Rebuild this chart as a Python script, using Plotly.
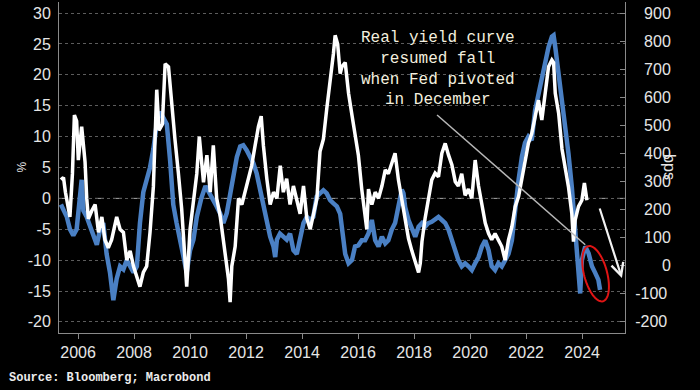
import numpy as np
import plotly.graph_objects as go

# ---- data ----
white_years = [2005.39, 2005.48, 2005.55, 2005.62, 2005.71, 2005.80, 2005.87, 2005.95, 2006.01, 2006.13,
               2006.25, 2006.31, 2006.37, 2006.49, 2006.61, 2006.73, 2006.85, 2006.96, 2007.08, 2007.20,
               2007.38, 2007.50, 2007.62, 2007.74, 2007.86, 2007.98, 2008.10, 2008.21, 2008.33, 2008.45,
               2008.57, 2008.69, 2008.81, 2008.89, 2009.01, 2009.11, 2009.23, 2009.35, 2009.46, 2009.58,
               2009.70, 2009.82, 2009.88, 2010.00, 2010.12, 2010.24, 2010.33, 2010.48, 2010.60, 2010.72,
               2010.83, 2010.95, 2011.07, 2011.19, 2011.31, 2011.37, 2011.43, 2011.49, 2011.61, 2011.73,
               2011.85, 2011.97, 2012.08, 2012.20, 2012.32, 2012.44, 2012.54, 2012.62, 2012.74, 2012.86,
               2012.98, 2013.10, 2013.22, 2013.33, 2013.45, 2013.57, 2013.69, 2013.81, 2013.93, 2014.05,
               2014.17, 2014.29, 2014.41, 2014.53, 2014.64, 2014.76, 2014.88, 2015.00, 2015.12, 2015.18,
               2015.27, 2015.36, 2015.42, 2015.54, 2015.66, 2015.78, 2015.89, 2016.01, 2016.13, 2016.25,
               2016.31, 2016.37, 2016.49, 2016.61, 2016.73, 2016.85, 2016.97, 2017.08, 2017.20, 2017.32,
               2017.44, 2017.56, 2017.68, 2017.80, 2017.92, 2018.04, 2018.16, 2018.22, 2018.28, 2018.39,
               2018.51, 2018.63, 2018.75, 2018.87, 2018.99, 2019.11, 2019.23, 2019.35, 2019.47, 2019.58,
               2019.70, 2019.82, 2019.94, 2020.06, 2020.18, 2020.30, 2020.42, 2020.54, 2020.66, 2020.77,
               2020.89, 2021.01, 2021.13, 2021.25, 2021.37, 2021.49, 2021.61, 2021.73, 2021.85, 2021.97,
               2022.08, 2022.20, 2022.32, 2022.44, 2022.56, 2022.68, 2022.80, 2022.92, 2022.98, 2023.04,
               2023.16, 2023.28, 2023.39, 2023.51, 2023.63, 2023.69, 2023.75, 2023.87, 2023.99, 2024.08,
               2024.17]
white_pct = [3.0, 3.4, 1.0, -1.0, -3.0, 4.0, 13.5, 12.5, 6.2, 11.6,
             5.9, 0.0, -3.3, -2.0, -1.0, -5.5, -3.0, -6.7, -8.0, -6.7,
             -3.0, -5.0, -5.5, -10.0, -8.5, -11.0, -12.7, -14.3, -12.0, -11.0,
             -5.5, 1.9, 17.6, 11.0, 12.0, 21.8, 21.3, 14.4, 9.6, 4.2,
             -1.7, -10.0, -14.3, -5.0, 0.0, 4.0, 10.0, 2.6, 7.0, 1.0,
             8.6, 0.0, -2.7, -6.5, -10.3, -13.0, -16.8, -11.0, -7.8, 0.0,
             -1.0, 1.0, 3.2, 5.3, 8.5, 11.6, 13.3, 8.5, 3.2, -1.0,
             1.0, 0.0, 5.3, 1.0, 3.2, -1.0, 2.0, -0.5, -2.5, 2.0,
             -3.3, -5.0, -2.7, 0.0, 7.6, 9.6, 14.5, 18.7, 23.5, 26.4,
             25.0, 20.2, 21.3, 22.0, 17.0, 13.5, 10.7, 7.0, 1.5, -3.5,
             -5.0, 1.5, -1.0, 1.0, 0.0, 2.0, 4.6, 4.0, 5.7, 7.3,
             3.0, 0.0, -3.3, -6.5, -8.5, -10.3, -12.0, -10.5, -7.0, -3.3,
             0.0, 3.0, 4.1, 3.5, 7.3, 8.9, 7.0, 5.4, 2.7, 2.0,
             4.0, 0.5, 1.5, 0.0, 6.2, 2.0, -1.0, -4.0, -5.7, -6.7,
             -5.7, -6.7, -7.8, -10.0, -6.7, -4.6, -1.3, 0.3, 3.0, 6.2,
             8.9, 10.5, 13.2, 15.9, 12.7, 16.5, 21.3, 22.4, 22.0, 17.0,
             13.8, 8.0, 5.0, 1.9, -2.4, -7.0, -3.5, -1.3, -0.3, 2.5,
             -0.3]

blue_years = [2005.39, 2005.48, 2005.60, 2005.71, 2005.83, 2005.95, 2006.07, 2006.13, 2006.19, 2006.31,
              2006.43, 2006.55, 2006.67, 2006.79, 2006.90, 2007.02, 2007.14, 2007.26, 2007.38, 2007.50,
              2007.62, 2007.74, 2007.86, 2007.98, 2008.10, 2008.21, 2008.33, 2008.45, 2008.57, 2008.69,
              2008.81, 2008.93, 2009.05, 2009.17, 2009.29, 2009.40, 2009.52, 2009.64, 2009.76, 2009.88,
              2010.00, 2010.12, 2010.24, 2010.40, 2010.55, 2010.71, 2010.83, 2010.95, 2011.07, 2011.19,
              2011.31, 2011.43, 2011.55, 2011.67, 2011.79, 2011.90, 2012.02, 2012.14, 2012.26, 2012.38,
              2012.50, 2012.62, 2012.74, 2012.86, 2012.98, 2013.04, 2013.10, 2013.21, 2013.33, 2013.45,
              2013.57, 2013.69, 2013.81, 2013.93, 2014.05, 2014.17, 2014.29, 2014.40, 2014.52, 2014.64,
              2014.76, 2014.88, 2015.00, 2015.12, 2015.24, 2015.36, 2015.42, 2015.54, 2015.66, 2015.78,
              2015.89, 2016.01, 2016.13, 2016.25, 2016.37, 2016.49, 2016.61, 2016.73, 2016.85, 2016.97,
              2017.08, 2017.20, 2017.32, 2017.44, 2017.56, 2017.62, 2017.68, 2017.80, 2017.92, 2018.04,
              2018.16, 2018.28, 2018.39, 2018.51, 2018.63, 2018.75, 2018.87, 2018.99, 2019.11, 2019.23,
              2019.35, 2019.47, 2019.58, 2019.70, 2019.82, 2019.94, 2020.06, 2020.18, 2020.30, 2020.42,
              2020.54, 2020.66, 2020.77, 2020.89, 2021.01, 2021.13, 2021.25, 2021.37, 2021.49, 2021.61,
              2021.73, 2021.85, 2021.96, 2022.08, 2022.20, 2022.32, 2022.44, 2022.56, 2022.68, 2022.80,
              2022.92, 2022.98, 2023.04, 2023.16, 2023.28, 2023.39, 2023.51, 2023.63, 2023.75, 2023.87,
              2023.93, 2023.99, 2024.05, 2024.11, 2024.23, 2024.35, 2024.47, 2024.58, 2024.64]
blue_pct = [-1.0, -2.0, -3.0, -5.0, -6.0, -5.0, 1.0, 3.0, -2.0, -3.0,
            -4.5, -6.0, -7.5, -5.0, -4.0, -9.0, -12.0, -16.5, -13.0, -11.0,
            -11.5, -10.0, -11.0, -12.0, -11.0, -4.0, 1.0, 3.0, 5.0, 8.0,
            12.0, 14.0, 13.0, 12.0, 6.0, -1.0, -4.0, -7.0, -9.0, -12.0,
            -8.4, -6.7, -3.0, 0.0, 2.0, 0.8, -0.3, -1.3, -2.4, -4.0,
            -2.4, 0.8, 4.0, 6.7, 8.4, 8.6, 7.8, 6.7, 5.7, 4.0,
            1.3, -1.3, -4.0, -6.2, -7.8, -9.5, -6.7, -5.7, -6.2, -6.7,
            -5.7, -8.4, -9.0, -6.2, -4.0, -3.0, -3.5, -3.0, 0.3, 0.8,
            1.3, 0.8, -0.3, -0.8, -1.3, -2.5, -5.0, -9.0, -10.5, -10.0,
            -7.8, -7.6, -6.8, -6.8, -5.7, -3.5, -6.8, -7.8, -6.2, -7.3,
            -6.8, -5.1, -4.0, -1.4, 1.4, 0.8, -1.4, -3.5, -5.1, -6.2,
            -4.6, -4.0, -4.6, -4.0, -3.8, -3.5, -3.0, -3.5, -4.0, -5.1,
            -6.8, -8.4, -10.0, -11.0, -10.5, -11.0, -11.6, -10.5, -9.5, -7.8,
            -6.8, -8.4, -11.0, -11.6, -10.5, -11.0, -10.0, -9.0, -6.8, -1.4,
            3.0, 6.8, 9.0, 10.0, 9.4, 14.3, 17.0, 19.7, 22.4, 24.5,
            26.2, 26.4, 24.5, 20.2, 15.9, 11.6, 7.3, 1.9, -4.6, -11.0,
            -15.4, -10.0, -8.9, -7.8, -8.9, -11.0, -12.1, -13.2, -14.8]

x_tick_years = [2006, 2008, 2010, 2012, 2014, 2016, 2018, 2020, 2022, 2024]
left_ticks = [-20, -15, -10, -5, 0, 5, 10, 15, 20, 25, 30]
right_ticks = [-200, -100, 0, 100, 200, 300, 400, 500, 600, 700, 800, 900]

# ---- styling ----
BLUE = "#4a80c4"
WHITE = "#ffffff"
AXIS = "#8a8a8a"
TXT = "#e6e6e6"
X_RANGE = [2005.32, 2025.53]
Y_RANGE = [-21.8, 31.8]
Y2_RANGE = [-239.6, 939.6]   # bps scale aligned with the % scale

fig = go.Figure()
# empty trace so that the right-hand (bps) axis is drawn
fig.add_trace(go.Scatter(x=[], y=[], yaxis="y2", mode="lines", hoverinfo="skip"))
fig.add_trace(go.Scatter(x=blue_years, y=blue_pct, mode="lines",
                         line=dict(color=BLUE, width=4.5), hoverinfo="skip"))
fig.add_trace(go.Scatter(x=white_years, y=white_pct, mode="lines",
                         line=dict(color=WHITE, width=3.5), hoverinfo="skip"))

tick_font = dict(family="Liberation Sans, Arial, sans-serif", size=16, color=TXT)

def fmt_left(v):
    return ("-" + str(-v)) if v < 0 else str(v)

def fmt_right(v):
    if v < 0:
        return "-" + str(-v)
    s = str(v)
    return "\u2007" * (4 - len(s)) + s

fig.update_layout(
    width=700, height=390,
    margin=dict(l=59, r=75, t=2, b=57, autoexpand=False),
    paper_bgcolor="black", plot_bgcolor="black",
    showlegend=False,
    xaxis=dict(range=X_RANGE, tickvals=x_tick_years, ticktext=[str(y) for y in x_tick_years],
               showgrid=False, zeroline=False, showline=True, linecolor=AXIS, linewidth=1,
               ticks="outside", ticklen=5, tickcolor=AXIS, tickfont=tick_font),
    yaxis=dict(range=Y_RANGE, tickvals=left_ticks, ticktext=[fmt_left(v) for v in left_ticks],
               showgrid=True, gridcolor="#5c5c5c", griddash="dot", gridwidth=1,
               zeroline=False, showline=True, linecolor=AXIS, linewidth=1,
               ticks="", ticklabelstandoff=4, tickfont=tick_font),
    yaxis2=dict(range=Y2_RANGE, overlaying="y", side="right", anchor="x",
                tickvals=right_ticks, ticktext=[fmt_right(v) for v in right_ticks],
                showgrid=False, zeroline=False, showline=True, linecolor=AXIS, linewidth=1,
                ticks="inside", ticklen=5, tickcolor=AXIS, ticklabelstandoff=6,
                tickfont=tick_font),
)

# dashed zero line
fig.add_shape(type="line", xref="paper", yref="y", x0=0, x1=1, y0=0, y1=0,
              line=dict(color="#a8a8a8", width=1, dash="dash"), layer="below")

# pointer line from annotation text to the ellipse
fig.add_shape(type="line", xref="x", yref="y", x0=2018.82, y0=13.5, x1=2024.11, y1=-7.5,
              line=dict(color="#b8b8b8", width=1.5))

# red tilted ellipse around latest readings
cx, cy = 2024.48, -12.2
a_px, b_px, ang = 28.5, 11.5, np.deg2rad(15)
px_per_year = 566 / (X_RANGE[1] - X_RANGE[0])
px_per_pct = 331 / (Y_RANGE[1] - Y_RANGE[0])
t = np.linspace(0, 2 * np.pi, 73)
dx = a_px * np.cos(t) * np.sin(ang) + b_px * np.sin(t) * np.cos(ang)
dy = a_px * np.cos(t) * np.cos(ang) - b_px * np.sin(t) * np.sin(ang)
ex = cx + dx / px_per_year
ey = cy - dy / px_per_pct
path = "M " + " L ".join(f"{x:.4f},{y:.4f}" for x, y in zip(ex, ey)) + " Z"
fig.add_shape(type="path", xref="x", yref="y", path=path,
              line=dict(color="#e01414", width=2))

# white arrow
fig.add_annotation(x=2025.42, y=-12.9, ax=2024.61, ay=-1.4, xref="x", yref="y",
                   axref="x", ayref="y", text="", showarrow=True,
                   arrowhead=5, arrowsize=1.1, arrowwidth=2.2, arrowcolor="#f2f2f2")

# annotation text
fig.add_annotation(x=2018.86, y=20.9, xref="x", yref="y", showarrow=False,
                   text="Real yield curve<br>resumed fall<br>when Fed pivoted<br>in December",
                   align="center", xanchor="center", yanchor="middle",
                   font=dict(family="Liberation Mono, Courier New, monospace", size=16,
                             color="#f3efdf"))

# axis labels
fig.add_annotation(x=-0.083, y=0.50, xref="paper", yref="paper", text="%", showarrow=False,
                   textangle=-90, font=dict(family="Liberation Sans, Arial, sans-serif",
                                            size=12, color=TXT))
fig.add_annotation(x=1.097, y=0.50, xref="paper", yref="paper", text="bps", showarrow=False,
                   textangle=90, font=dict(family="Liberation Sans, Arial, sans-serif",
                                           size=16, color=TXT))

# source
fig.add_annotation(x=-0.092, y=-0.136, xref="paper", yref="paper", xanchor="left",
                   yanchor="middle", showarrow=False, text="<b>Source: Bloomberg; Macrobond</b>",
                   font=dict(family="Liberation Mono, Courier New, monospace", size=12,
                             color="#ececec"))

fig.write_html("out.html", config={"displayModeBar": False},
               post_script="document.body.style.margin='0';")
